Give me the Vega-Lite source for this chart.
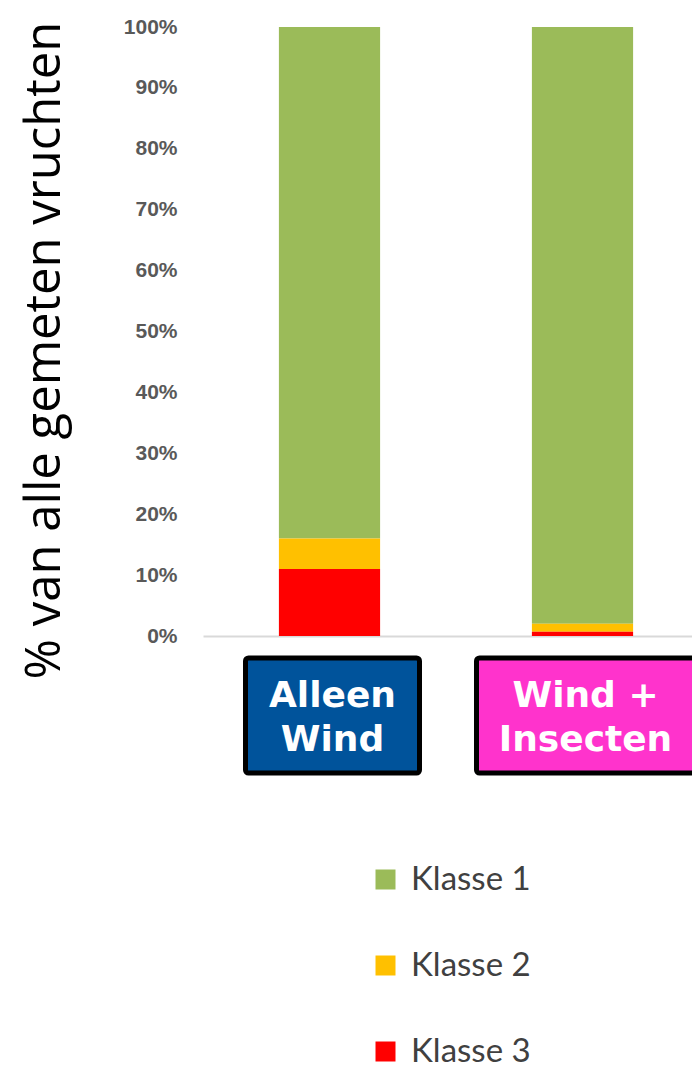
{
  "$schema": "https://vega.github.io/schema/vega-lite/v6.json",
  "background": "white",
  "padding": {"left": 20, "top": 16, "right": 0, "bottom": 0},
  "config": {"view": {"stroke": null}, "font": "Open Sans"},
  "spacing": 22,
  "bounds": "flush",
  "vconcat": [
    {
      "width": 506,
      "height": 609,
      "data": {
        "values": [
          {"group": "Alleen Wind", "Klasse": "Klasse 1", "pct": 0.84},
          {"group": "Alleen Wind", "Klasse": "Klasse 2", "pct": 0.05},
          {"group": "Alleen Wind", "Klasse": "Klasse 3", "pct": 0.11},
          {"group": "Wind + Insecten", "Klasse": "Klasse 1", "pct": 0.98},
          {"group": "Wind + Insecten", "Klasse": "Klasse 2", "pct": 0.013},
          {"group": "Wind + Insecten", "Klasse": "Klasse 3", "pct": 0.007}
        ]
      },
      "mark": {"type": "bar"},
      "encoding": {
        "x": {
          "field": "group", "type": "nominal", "sort": null,
          "scale": {"paddingInner": 0.6, "paddingOuter": 0.3},
          "axis": {"labels": false, "ticks": false, "title": null, "domainColor": "#d9d9d9", "domainWidth": 2}
        },
        "y": {
          "field": "pct", "type": "quantitative", "stack": "zero",
          "scale": {"domain": [0, 1]},
          "axis": {
            "format": ".0%",
            "values": [0, 0.1, 0.2, 0.3, 0.4, 0.5, 0.6, 0.7, 0.8, 0.9, 1],
            "grid": false, "domain": false, "ticks": false,
            "labelFont": "Liberation Sans", "labelFontWeight": "bold", "labelFontSize": 21,
            "labelColor": "#595959", "labelPadding": 26,
            "title": "% van alle gemeten vruchten",
            "titleFont": "Open Sans", "titleFontSize": 49, "titleFontWeight": "normal",
            "titleColor": "black", "titlePadding": 54, "titleY": 323
          }
        },
        "color": {
          "field": "Klasse", "type": "nominal",
          "scale": {"domain": ["Klasse 1", "Klasse 2", "Klasse 3"], "range": ["#9BBB59", "#FFC000", "#FF0000"]},
          "legend": {
            "orient": "none", "legendX": 166, "legendY": 836, "title": null,
            "symbolType": "square", "symbolSize": 400, "symbolStrokeWidth": 0,
            "labelFont": "Lato", "labelFontSize": 33, "labelColor": "#404040",
            "rowPadding": 52, "labelOffset": 9,
            "encode": {
              "symbols": {
                "update": {
                  "fill": {"signal": "datum.value === 'Klasse 3' ? '#C00000' : (datum.value === 'Klasse 2' ? '#FFC000' : '#9BBB59')"}
                }
              }
            }
          }
        },
        "order": {"field": "Klasse", "sort": "descending"}
      }
    },
    {
      "width": 506,
      "height": 115,
      "data": {
        "values": [
          {"group": "Alleen Wind", "label": "Alleen\nWind"},
          {"group": "Wind + Insecten", "label": "Wind +\nInsecten"}
        ]
      },
      "encoding": {
        "x": {
          "field": "group", "type": "nominal", "sort": null,
          "scale": {"paddingInner": 0.6, "paddingOuter": 0.3},
          "axis": null
        },
        "fill": {
          "field": "group", "type": "nominal",
          "scale": {"domain": ["Alleen Wind", "Wind + Insecten"], "range": ["#00539B", "#FF33CC"]},
          "legend": null
        }
      },
      "layer": [
        {
          "transform": [{"filter": "datum.group === 'Alleen Wind'"}],
          "mark": {"type": "bar", "stroke": "black", "strokeWidth": 5, "cornerRadius": 3, "width": 174, "xOffset": 3}
        },
        {
          "transform": [{"filter": "datum.group === 'Wind + Insecten'"}],
          "mark": {"type": "bar", "stroke": "black", "strokeWidth": 5, "cornerRadius": 3, "width": 224, "xOffset": 6}
        },
        {
          "mark": {
            "type": "text", "color": "white", "font": "DejaVu Sans", "fontWeight": "bold",
            "fontSize": 36, "lineBreak": "\n", "lineHeight": 44, "baseline": "middle", "dx": 3, "dy": -20
          },
          "encoding": {"text": {"field": "label"}, "fill": {"value": "white"}}
        }
      ]
    }
  ]
}
